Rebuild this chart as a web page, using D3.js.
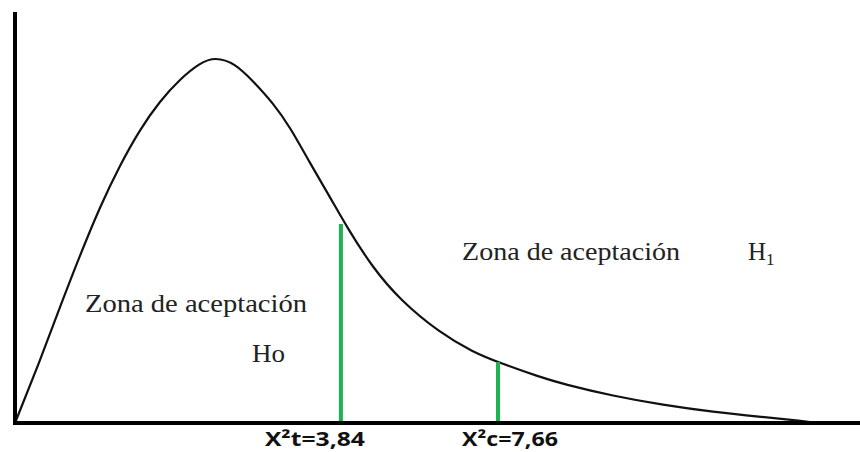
<!DOCTYPE html>
<html>
<head>
<meta charset="utf-8">
<script src="https://cdn.jsdelivr.net/npm/d3@7"></script>
<style>
  body { margin: 0; background: #fff; }
  .zona { font-family: "Liberation Serif", "Times New Roman", serif; font-size: 25px; fill: #222; }
  .crit { font-family: "Open Sans", "DejaVu Sans", sans-serif; font-weight: bold; font-size: 20px; fill: #111; }
</style>
</head>
<body>
<svg id="chart" width="860" height="452"></svg>
<script>
// curve (x in chi-square-ish units, y as relative density)
var curveX = [0, 0.60, 1.07, 1.55, 2.02, 2.50, 2.98, 3.45, 3.93, 4.40, 4.76,
  5.24, 5.71, 6.14, 6.55, 7.02, 7.50, 7.90, 8.52, 9.17, 10.12, 10.90, 11.55, 12.50,
  13.05, 14.24, 15.43, 16.62, 17.81, 18.76, 19.05];
var curveY = [0, 0.157, 0.29, 0.42, 0.54, 0.645, 0.735, 0.805, 0.86, 0.9, 0.915,
  0.90, 0.85, 0.80, 0.74, 0.65, 0.565, 0.49, 0.3875, 0.3075, 0.225, 0.1775, 0.15, 0.115,
  0.0975, 0.0675, 0.045, 0.0275, 0.015, 0.005, 0];

// critical values (green markers)
var critLabels = ["X\u00b2t=3,84", "X\u00b2c=7,66"];
var critX = [7.76, 11.50];
var critY = [0.4975, 0.1525];

var zoneLabels = ["Zona de aceptaci\u00f3n", "Zona de aceptaci\u00f3n"];
var hypLabels = ["Ho", "H"];

var svg = d3.select("#chart");

var x = d3.scaleLinear().domain([0, 20]).range([15, 855]),
  y = d3.scaleLinear().domain([0, 1]).range([423, 23]);

var pts = curveX.map(function (d, i) { return [d, curveY[i]]; });

var line = d3.line()
  .x(function (d) { return x(d[0]); })
  .y(function (d) { return y(d[1]); })
  .curve(d3.curveBasis);

svg.append("path")
  .datum(pts)
  .attr("d", line)
  .attr("fill", "none")
  .attr("stroke", "#111")
  .attr("stroke-width", 2.2);

// green lines
svg.selectAll(".crit-line")
  .data(critX)
  .enter().append("line")
  .attr("class", "crit-line")
  .attr("x1", function (d) { return x(d); })
  .attr("x2", function (d) { return x(d); })
  .attr("y1", function (d, i) { return y(critY[i]); })
  .attr("y2", y(0))
  .attr("stroke", "#1fb254")
  .attr("stroke-width", 4);

// axes
svg.append("line")
  .attr("x1", x(0)).attr("x2", 860)
  .attr("y1", y(0)).attr("y2", y(0))
  .attr("stroke", "#000").attr("stroke-width", 4);

svg.append("line")
  .attr("x1", x(0)).attr("x2", x(0))
  .attr("y1", 12).attr("y2", y(0) + 2)
  .attr("stroke", "#000").attr("stroke-width", 4);

// critical labels
var labelShift = [-26, 12];
svg.selectAll(".crit")
  .data(critLabels)
  .enter().append("text")
  .attr("class", "crit")
  .attr("text-anchor", "middle")
  .attr("x", function (d, i) { return x(critX[i]) + labelShift[i]; })
  .attr("y", 446)
  .attr("textLength", function (d, i) { return i ? 96 : 100; })
  .attr("lengthAdjust", "spacingAndGlyphs")
  .text(function (d) { return d; });

// zone texts
svg.append("text").attr("class", "zona")
  .attr("x", 85).attr("y", 312)
  .attr("textLength", 222).attr("lengthAdjust", "spacingAndGlyphs")
  .text(zoneLabels[0]);
svg.append("text").attr("class", "zona")
  .attr("x", 252).attr("y", 362)
  .attr("textLength", 33).attr("lengthAdjust", "spacingAndGlyphs")
  .text(hypLabels[0]);

svg.append("text").attr("class", "zona")
  .attr("x", 462).attr("y", 260)
  .attr("textLength", 218).attr("lengthAdjust", "spacingAndGlyphs")
  .text(zoneLabels[1]);
var h1 = svg.append("text").attr("class", "zona")
  .attr("x", 748).attr("y", 260);
h1.append("tspan").text(hypLabels[1]);
h1.append("tspan").attr("dy", 5).style("font-size", "17px").text("1");
</script>
</body>
</html>
